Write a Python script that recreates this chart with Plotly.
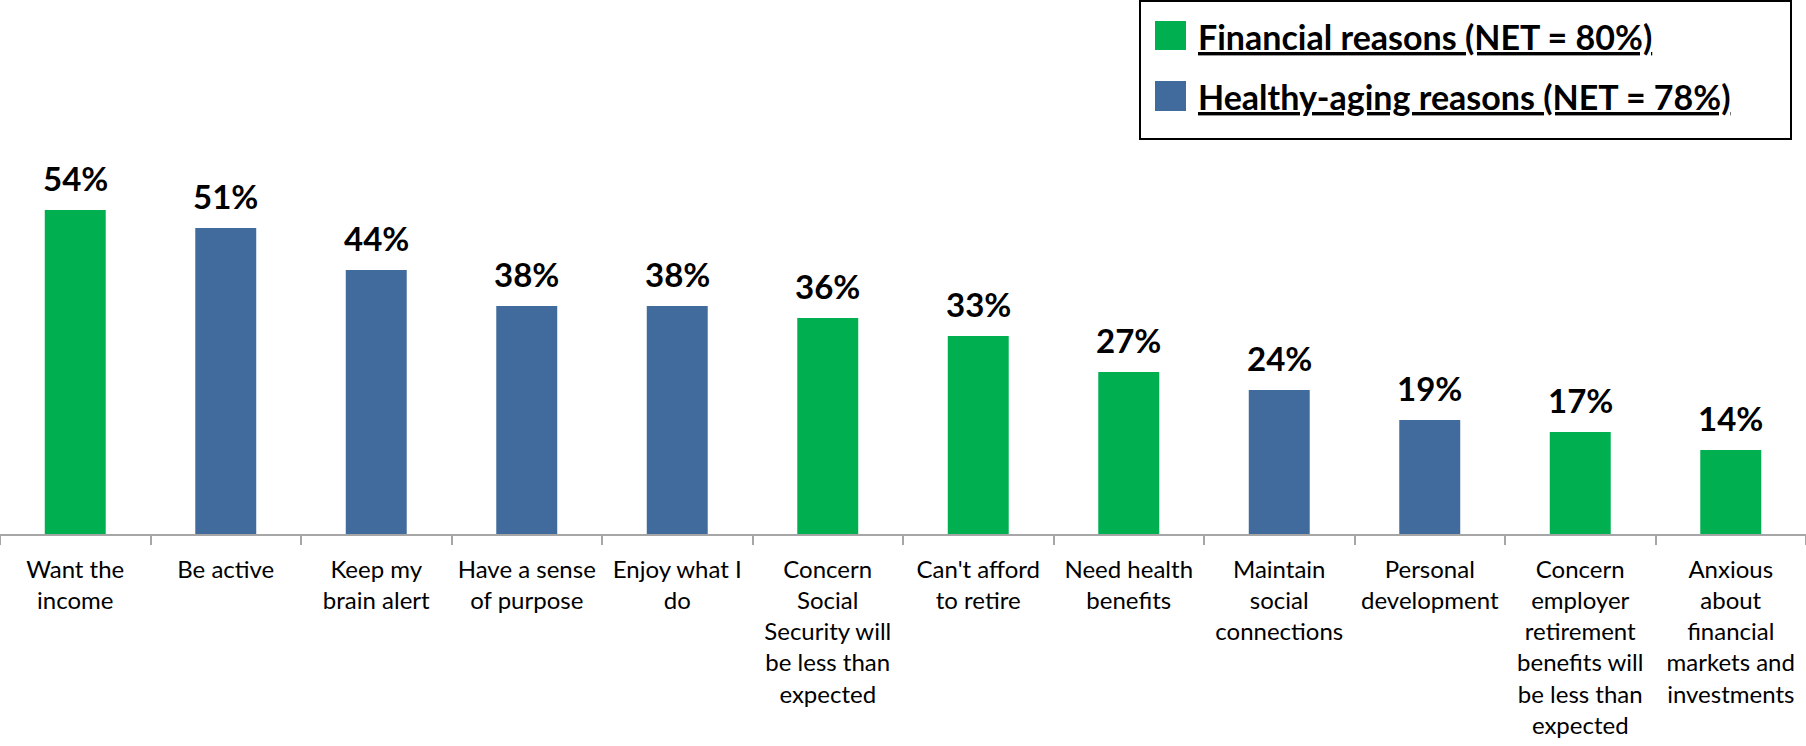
import plotly.graph_objects as go

categories = [
    "Want the<br>income",
    "Be active",
    "Keep my<br>brain alert",
    "Have a sense<br>of purpose",
    "Enjoy what I<br>do",
    "Concern<br>Social<br>Security will<br>be less than<br>expected",
    "Can't afford<br>to retire",
    "Need health<br>benefits",
    "Maintain<br>social<br>connections",
    "Personal<br>development",
    "Concern<br>employer<br>retirement<br>benefits will<br>be less than<br>expected",
    "Anxious<br>about<br>financial<br>markets and<br>investments",
]
values = [54, 51, 44, 38, 38, 36, 33, 27, 24, 19, 17, 14]
groups = ["F", "H", "H", "H", "H", "F", "F", "F", "H", "H", "F", "F"]
legend_labels = {"F": "Financial reasons (NET = 80%)", "H": "Healthy-aging reasons (NET = 78%)"}
group_colors = {"F": "#00B050", "H": "#406B9C"}

colors = [group_colors[g] for g in groups]

fig = go.Figure()
fig.add_trace(go.Bar(
    x=categories, y=values, marker=dict(color=colors, line=dict(width=0)),
    showlegend=False, hoverinfo="x+y",
))

annotations = []
for c, v in zip(categories, values):
    annotations.append(dict(
        x=c, y=v, xref="x", yref="y", text=f"<b>{v}%</b>", showarrow=False,
        yanchor="bottom", yshift=10,
        font=dict(family="Lato", size=33, color="black"),
    ))

# Legend (drawn manually)
H = 534.0
W = 1806.0
def px(x):
    return x / W
def py(y):
    return (H - y) / H

shapes = [
    dict(type="rect", xref="paper", yref="paper", x0=px(1140), x1=px(1791), y0=py(139), y1=py(1),
         line=dict(color="black", width=2), fillcolor="white", layer="above"),
]
leg_rows = [("F", 21, 50, 36), ("H", 81, 111, 96)]
for g, t, b, cy in leg_rows:
    shapes.append(dict(type="rect", xref="paper", yref="paper", x0=px(1155), x1=px(1186),
                       y0=py(b), y1=py(t), line=dict(width=0), fillcolor=group_colors[g], layer="above"))
    annotations.append(dict(
        x=px(1196), y=py(cy), xref="paper", yref="paper", xanchor="left", yanchor="middle",
        text=f"<b><u>{legend_labels[g]}</u></b>", showarrow=False,
        font=dict(family="Lato", size=34, color="black"),
    ))

fig.update_layout(
    width=1806, height=746,
    margin=dict(l=0, r=0, t=0, b=212),
    plot_bgcolor="white", paper_bgcolor="white",
    bargap=0.595,
    shapes=shapes,
    annotations=annotations,
    xaxis=dict(
        showline=True, linecolor="#A6A6A6", linewidth=2,
        ticks="outside", ticklen=9, tickwidth=2, tickcolor="#A6A6A6",
        tickson="boundaries", showgrid=False,
        tickfont=dict(family="Lato", size=24, color="black"),
        tickangle=0, ticklabelstandoff=13,
    ),
    yaxis=dict(range=[0, 89], visible=False, showgrid=False, zeroline=False),
)

fig.write_html("out.html")
